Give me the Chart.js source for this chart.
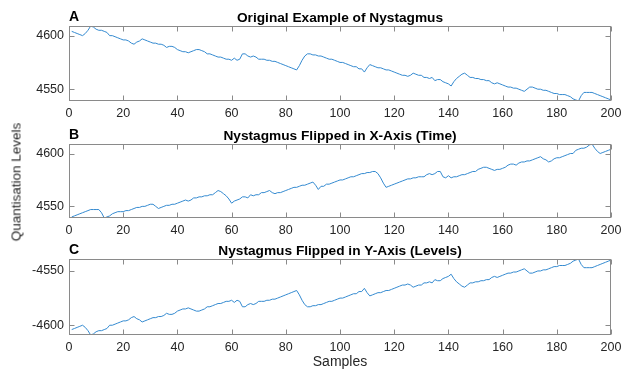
<!DOCTYPE html>
<html>
<head>
<meta charset="utf-8">
<script src="https://cdn.jsdelivr.net/npm/chart.js@4/dist/chart.umd.min.js"></script>
<style>
  html, body { margin: 0; padding: 0; background: #fff; }
  #wrap { position: relative; width: 632px; height: 373px; overflow: hidden; font-family: Helvetica, "Liberation Sans", Arial, sans-serif; }
  .panel { position: absolute; left: 0; width: 632px; }
  #ylab { position: absolute; left: 16px; top: 182px; transform: translate(-50%, -50%) rotate(-90deg); font-size: 13.5px; color: #262626; white-space: nowrap; }
</style>
</head>
<body>
<div id="wrap">
  <div class="panel" style="top:0px;height:121px"><canvas id="chartA" width="632" height="121"></canvas></div>
  <div class="panel" style="top:118px;height:120px"><canvas id="chartB" width="632" height="120"></canvas></div>
  <div class="panel" style="top:233px;height:140px"><canvas id="chartC" width="632" height="140"></canvas></div>
  <div id="ylab">Quantisation Levels</div>
</div>
<script>
// x ticks shared by all panels
const xTicks = [0, 20, 40, 60, 80, 100, 120, 140, 160, 180, 200]

// A: original recording, samples 1..200
const original = [
  4604,4603,4602,4601,4600,4602,4605,4609,4608,4606,
  4605,4605,4604,4603,4600,4600,4599,4598,4597,4596,
  4596,4595,4593,4592,4594,4595,4597,4596,4595,4594,
  4593,4593,4592,4592,4591,4589,4590,4590,4589,4587,
  4586,4585,4585,4584,4585,4586,4587,4587,4586,4585,
  4583,4583,4582,4581,4580,4580,4579,4578,4578,4577,
  4579,4577,4578,4583,4583,4581,4580,4581,4580,4578,
  4578,4578,4577,4577,4576,4576,4575,4574,4573,4572,
  4571,4570,4569,4568,4572,4577,4581,4583,4583,4582,
  4582,4581,4581,4580,4579,4578,4578,4577,4576,4575,
  4575,4574,4573,4572,4571,4571,4569,4569,4566,4570,
  4573,4572,4571,4570,4570,4569,4568,4568,4567,4566,
  4565,4564,4563,4563,4562,4563,4565,4564,4563,4563,
  4561,4561,4560,4561,4558,4559,4559,4557,4556,4555,
  4553,4557,4560,4562,4564,4565,4563,4561,4561,4560,
  4560,4559,4559,4558,4558,4556,4555,4556,4555,4554,
  4553,4552,4552,4551,4551,4550,4549,4548,4550,4552,
  4552,4551,4550,4550,4549,4549,4548,4547,4546,4546,
  4545,4545,4545,4544,4543,4541,4540,4539,4544,4547,
  4547,4547,4547,4546,4545,4544,4543,4542,4541,4540
]

// B: flipped in time
const flippedX = [
  4540,4541,4542,4543,4544,4545,4546,4547,4547,4547,
  4547,4544,4539,4540,4541,4543,4544,4545,4545,4545,
  4546,4546,4547,4548,4549,4549,4550,4550,4551,4552,
  4552,4550,4548,4549,4550,4551,4551,4552,4552,4553,
  4554,4555,4556,4555,4556,4558,4558,4559,4559,4560,
  4560,4561,4561,4563,4565,4564,4562,4560,4557,4553,
  4555,4556,4557,4559,4559,4558,4561,4560,4561,4561,
  4563,4563,4564,4565,4563,4562,4563,4563,4564,4565,
  4566,4567,4568,4568,4569,4570,4570,4571,4572,4573,
  4570,4566,4569,4569,4571,4571,4572,4573,4574,4575,
  4575,4576,4577,4578,4578,4579,4580,4581,4581,4582,
  4582,4583,4583,4581,4577,4572,4568,4569,4570,4571,
  4572,4573,4574,4575,4576,4576,4577,4577,4578,4578,
  4578,4580,4581,4580,4581,4583,4583,4578,4577,4579,
  4577,4578,4578,4579,4580,4580,4581,4582,4583,4583,
  4585,4586,4587,4587,4586,4585,4584,4585,4585,4586,
  4587,4589,4590,4590,4589,4591,4592,4592,4593,4593,
  4594,4595,4596,4597,4595,4594,4592,4593,4595,4596,
  4596,4597,4598,4599,4600,4600,4603,4604,4605,4605,
  4606,4608,4609,4605,4602,4600,4601,4602,4603,4604
]

// C: flipped in level
const flippedY = [
  -4604,-4603,-4602,-4601,-4600,-4602,-4605,-4609,-4608,-4606,
  -4605,-4605,-4604,-4603,-4600,-4600,-4599,-4598,-4597,-4596,
  -4596,-4595,-4593,-4592,-4594,-4595,-4597,-4596,-4595,-4594,
  -4593,-4593,-4592,-4592,-4591,-4589,-4590,-4590,-4589,-4587,
  -4586,-4585,-4585,-4584,-4585,-4586,-4587,-4587,-4586,-4585,
  -4583,-4583,-4582,-4581,-4580,-4580,-4579,-4578,-4578,-4577,
  -4579,-4577,-4578,-4583,-4583,-4581,-4580,-4581,-4580,-4578,
  -4578,-4578,-4577,-4577,-4576,-4576,-4575,-4574,-4573,-4572,
  -4571,-4570,-4569,-4568,-4572,-4577,-4581,-4583,-4583,-4582,
  -4582,-4581,-4581,-4580,-4579,-4578,-4578,-4577,-4576,-4575,
  -4575,-4574,-4573,-4572,-4571,-4571,-4569,-4569,-4566,-4570,
  -4573,-4572,-4571,-4570,-4570,-4569,-4568,-4568,-4567,-4566,
  -4565,-4564,-4563,-4563,-4562,-4563,-4565,-4564,-4563,-4563,
  -4561,-4561,-4560,-4561,-4558,-4559,-4559,-4557,-4556,-4555,
  -4553,-4557,-4560,-4562,-4564,-4565,-4563,-4561,-4561,-4560,
  -4560,-4559,-4559,-4558,-4558,-4556,-4555,-4556,-4555,-4554,
  -4553,-4552,-4552,-4551,-4551,-4550,-4549,-4548,-4550,-4552,
  -4552,-4551,-4550,-4550,-4549,-4549,-4548,-4547,-4546,-4546,
  -4545,-4545,-4545,-4544,-4543,-4541,-4540,-4539,-4544,-4547,
  -4547,-4547,-4547,-4546,-4545,-4544,-4543,-4542,-4541,-4540
]

const posTicks = [4550, 4600]
const negTicks = [-4600, -4550]
const posRange = [4539, 4609]
const negRange = [-4609, -4539]

const FONT = 'Helvetica, "Liberation Sans", Arial, sans-serif'
const LINE = 'rgb(52, 138, 208)'
const AXIS = '#8a8a8a'

// matlab style box, inward ticks, panel letter and title
const matlabAxes = {
  id: 'matlabAxes',
  afterDatasetsDraw(chart, args, opts) {
    const { ctx, chartArea: a, scales: { x, y } } = chart
    const L = Math.round(a.left) + 0.5, R = Math.round(a.right) - 0.5
    const T = Math.round(a.top) + 0.5, B = Math.round(a.bottom) - 0.5
    ctx.save()
    ctx.strokeStyle = AXIS
    ctx.lineWidth = 1
    ctx.strokeRect(L, T, R - L, B - T)
    ctx.beginPath()
    x.ticks.forEach(t => {
      const px = Math.round(x.getPixelForValue(t.value)) + 0.5
      ctx.moveTo(px, B); ctx.lineTo(px, B - 5)
      ctx.moveTo(px, T); ctx.lineTo(px, T + 5)
    })
    y.ticks.forEach(t => {
      const py = Math.round(y.getPixelForValue(t.value)) + 0.5
      ctx.moveTo(L, py); ctx.lineTo(L + 5, py)
      ctx.moveTo(R, py); ctx.lineTo(R - 5, py)
    })
    ctx.stroke()

    ctx.fillStyle = '#000'
    ctx.textBaseline = 'alphabetic'
    ctx.font = 'bold 14px ' + FONT
    ctx.textAlign = 'left'
    ctx.fillText(opts.letter, a.left, a.top - 5)
    ctx.font = 'bold 13.7px ' + FONT
    ctx.textAlign = 'center'
    ctx.fillText(opts.title, (a.left + a.right) / 2, a.top - 4)
    if (opts.xTitle) {
      ctx.fillStyle = '#262626'
      ctx.font = '14px ' + FONT
      ctx.textBaseline = 'middle'
      ctx.fillText(opts.xTitle, (a.left + a.right) / 2, a.bottom + 27)
    }
    ctx.restore()
  }
}

function makePanel(id, values, range, yTicks, letter, title, padTop, padBottom, xTitle) {
  const points = values.map((v, i) => ({ x: i + 1, y: v }))
  return new Chart(document.getElementById(id), {
    type: 'line',
    data: {
      datasets: [{
        data: points,
        borderColor: LINE,
        borderWidth: 1,
        pointRadius: 0,
        tension: 0,
        fill: false
      }]
    },
    options: {
      responsive: false,
      animation: false,
      events: [],
      layout: { padding: { top: padTop, right: 21, bottom: padBottom, left: 0 } },
      plugins: {
        legend: { display: false },
        tooltip: { enabled: false },
        matlabAxes: { letter, title, xTitle }
      },
      scales: {
        x: {
          type: 'linear',
          min: 0,
          max: 200,
          afterBuildTicks: s => { s.ticks = xTicks.map(v => ({ value: v })) },
          afterFit: s => { s.height = 20 },
          grid: { display: false, drawTicks: false },
          border: { display: false },
          ticks: { color: '#262626', font: { family: FONT, size: 12.5 }, padding: 5, maxRotation: 0, callback: v => String(v) }
        },
        y: {
          min: range[0],
          max: range[1],
          afterBuildTicks: s => { s.ticks = yTicks.map(v => ({ value: v })) },
          afterFit: s => { s.width = 69 },
          grid: { display: false, drawTicks: false },
          border: { display: false },
          ticks: { color: '#262626', font: { family: FONT, size: 12.5 }, padding: 5, callback: v => String(v) }
        }
      }
    },
    plugins: [matlabAxes]
  })
}

makePanel('chartA', original, posRange, posTicks, 'A', 'Original Example of Nystagmus', 26, 0)
makePanel('chartB', flippedX, posRange, posTicks, 'B', 'Nystagmus Flipped in X-Axis (Time)', 26, 0)
makePanel('chartC', flippedY, negRange, negTicks, 'C', 'Nystagmus Flipped in Y-Axis (Levels)', 26, 18, 'Samples')
</script>
</body>
</html>
